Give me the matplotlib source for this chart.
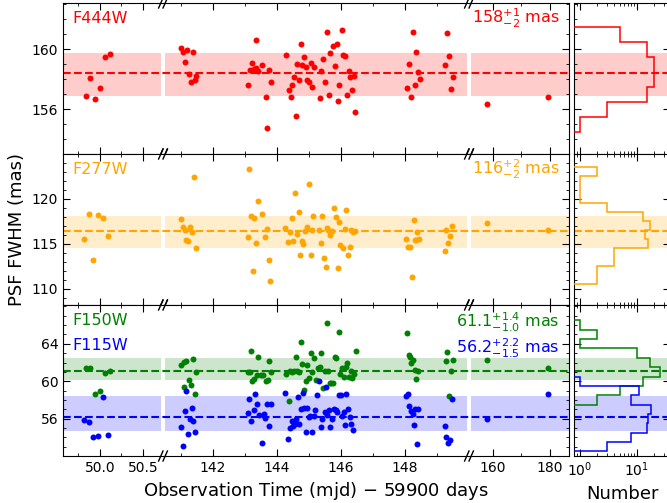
import matplotlib
matplotlib.use("Agg")
import matplotlib.pyplot as plt
from matplotlib.ticker import FixedLocator, MultipleLocator, LogLocator, NullFormatter
import numpy as np

# observation times (mjd - 59900) and PSF FWHM (mas) per filter
t_f444w = [49.835, 49.94, 49.885, 50.005, 50.06, 50.115,
           141.01, 141.075, 141.19, 141.37, 141.14, 141.24, 141.30, 141.43, 141.47,
           143.11, 143.15, 143.21, 143.28, 143.33, 143.36, 143.41, 143.54, 143.65, 143.76, 143.70, 143.81,
           144.28, 144.37, 144.43, 144.48, 144.53, 144.58, 144.64, 144.68, 144.74, 144.79,
           144.84, 144.90, 144.95, 145.00, 145.05, 145.11, 145.17, 145.33, 145.39, 145.43,
           145.50, 145.55, 145.62, 145.67, 145.75, 145.81, 145.87, 145.92, 145.95, 146.03,
           146.06, 146.12, 146.19, 146.24, 146.29, 146.34, 146.40, 146.45,
           148.08, 148.13, 148.20, 148.25, 148.30, 148.36, 148.41, 148.46,
           149.25, 149.31, 149.37, 149.45, 149.50,
           158.1, 179.4]
fwhm_f444w = [156.9, 156.7, 158.1, 157.4, 159.5, 159.7,
              160.04, 159.82, 159.93, 159.82, 159.13, 158.33, 157.82, 157.93, 158.22,
              157.62, 158.57, 159.04, 158.64, 160.62, 158.73, 158.55, 158.93, 156.82, 158.62, 154.71, 157.82,
              159.62, 157.29, 156.82, 157.62, 158.13, 155.51, 159.02, 157.91, 160.33, 158.91,
              159.44, 158.82, 157.95, 157.77, 159.04, 157.44, 158.82, 156.71, 158.53, 159.33,
              157.82, 161.13, 156.91, 159.73, 160.22, 158.84, 160.33, 156.51, 157.60, 161.24,
              159.62, 159.55, 156.91, 158.55, 158.11, 157.29, 158.22, 155.80,
              157.40, 159.02, 156.80, 161.13, 157.60, 159.82, 158.44, 158.00,
              158.93, 161.04, 159.51, 157.31, 158.11,
              156.31, 156.82]

t_f277w = [49.81, 49.87, 49.92, 49.98, 50.03, 50.09,
           141.01, 141.06, 141.14, 141.17, 141.23, 141.28, 141.33, 141.40, 141.46,
           143.08, 143.14, 143.20, 143.25, 143.29, 143.34, 143.40, 143.52, 143.64, 143.69, 143.74, 143.79,
           144.26, 144.34, 144.41, 144.46, 144.51, 144.55, 144.62, 144.68, 144.72, 144.78,
           144.81, 144.88, 144.93, 144.99, 145.05, 145.10, 145.14, 145.31, 145.37, 145.42,
           145.47, 145.52, 145.57, 145.60, 145.65, 145.72, 145.79, 145.84, 145.90, 145.93, 145.96,
           146.06, 146.12, 146.15, 146.22, 146.27, 146.32, 146.38, 146.43,
           148.04, 148.09, 148.15, 148.22, 148.27, 148.30, 148.36, 148.39, 148.44,
           149.24, 149.29, 149.34, 149.42, 149.48,
           158.1, 179.4]
fwhm_f277w = [115.59, 118.35, 113.20, 118.16, 117.87, 115.86,
              117.76, 116.93, 116.60, 115.41, 115.30, 116.86, 116.37, 122.42, 114.58,
              115.78, 123.31, 118.13, 111.97, 117.83, 115.14, 119.73, 118.32, 115.78, 116.64, 113.17, 110.82,
              116.75, 115.25, 116.37, 117.83, 115.36, 120.63, 116.08, 118.50, 113.76, 115.33,
              115.00, 116.45, 116.93, 121.71, 113.76, 116.60, 118.13, 116.53, 115.14, 118.13,
              113.39, 112.45, 116.75, 116.56, 116.00, 116.42, 118.95, 118.02, 112.27, 117.46, 114.85,
              114.51, 116.64, 118.77, 113.76, 114.66, 116.56, 116.34, 116.45,
              115.55, 114.66, 114.66, 111.30, 117.65, 115.41, 115.41, 116.34, 115.52,
              114.21, 116.56, 115.11, 115.86, 117.04,
              117.35, 116.56]

t_f150w = [49.835, 49.885, 49.94, 50.005, 50.06, 50.115,
           141.01, 141.08, 141.17, 141.37, 141.08, 141.25, 141.30, 141.43, 141.48,
           143.20, 143.09, 143.15, 143.23, 143.27, 143.37, 143.41, 143.49, 143.55, 143.65, 143.71, 143.76, 143.81,
           144.28, 144.37, 144.42, 144.47, 144.52, 144.59, 144.64, 144.69, 144.75, 144.79,
           144.84, 144.90, 144.95, 145.00, 145.05, 145.11, 145.17, 145.23, 145.28, 145.33,
           145.39, 145.44, 145.49, 145.55, 145.61, 145.65, 145.70, 145.75, 145.80, 145.86, 145.94,
           145.96, 146.04, 146.09, 146.15, 146.20, 146.25, 146.30, 146.36, 146.41, 146.46,
           148.08, 148.12, 148.15, 148.19, 148.25, 148.30, 148.36, 148.41,
           149.27, 149.31, 149.37, 149.50, 149.45,
           158.1, 179.4]
fwhm_f150w = [61.43, 61.43, 58.61, 58.93, 60.86, 61.11,
              61.72, 62.04, 62.11, 62.33, 59.33, 60.11, 59.57, 58.68, 60.97,
              63.25, 60.97, 60.97, 60.00, 60.25, 60.65, 62.54, 60.65, 60.61, 59.97, 60.11, 62.18, 61.00,
              60.75, 57.93, 61.11, 61.00, 61.04, 62.61, 61.04, 60.97, 64.15, 61.82,
              59.07, 60.03, 61.72, 60.29, 63.04, 61.00, 62.44, 60.18, 61.43, 61.50,
              63.04, 59.28, 61.07, 66.19, 61.07, 59.79, 59.79, 59.82, 62.54, 62.44, 65.29,
              60.72, 61.36, 60.46, 61.54, 61.90, 60.40, 61.07, 60.29, 60.75, 63.25,
              65.11, 62.79, 62.61, 61.90, 62.25, 61.18, 60.22, 61.07,
              62.15, 63.14, 58.43, 62.25, 61.11,
              62.25, 61.43]

t_f115w = [49.81, 49.87, 49.92, 49.98, 50.04, 50.09,
           141.01, 141.07, 141.11, 141.17, 141.22, 141.27, 141.33, 141.39, 141.44,
           143.09, 143.14, 143.18, 143.27, 143.31, 143.39, 143.44, 143.53, 143.59, 143.64, 143.70, 143.74, 143.81,
           144.26, 144.34, 144.40, 144.46, 144.51, 144.56, 144.61, 144.65, 144.69, 144.74,
           144.80, 144.84, 144.90, 144.95, 145.00, 145.04, 145.09, 145.15, 145.20, 145.25,
           145.31, 145.37, 145.42, 145.49, 145.52, 145.57, 145.63, 145.67, 145.73, 145.78,
           145.84, 145.88, 145.93,
           146.01, 146.04, 146.12, 146.17, 146.22, 146.27, 146.32, 146.38, 146.09,
           148.04, 148.09, 148.13, 148.20, 148.25, 148.30, 148.41, 148.27, 148.39,
           149.24, 149.29, 149.34, 149.40, 149.48,
           158.1, 179.4]
fwhm_f115w = [55.82, 55.64, 54.07, 54.14, 58.32, 54.29,
              55.07, 53.07, 56.79, 58.96, 54.35, 55.96, 57.18, 55.75, 54.61,
              56.60, 58.10, 55.71, 56.89, 58.61, 57.61, 56.36, 53.39, 56.54, 56.11, 57.61, 55.25, 57.61,
              58.79, 53.86, 55.00, 55.75, 55.21, 55.39, 56.00, 58.32, 55.39, 57.00,
              58.79, 57.18, 54.57, 57.14, 56.14, 56.25, 54.57, 56.33, 56.89, 58.50,
              59.97, 55.10, 56.00, 56.71, 59.33, 56.43, 56.89, 55.10, 56.00, 57.08,
              56.89, 56.71, 58.50,
              58.50, 56.25, 55.29, 58.68, 57.08, 56.18, 55.47, 54.83, 56.71,
              58.43, 58.58, 57.32, 56.82, 56.54, 57.08, 57.08, 55.36, 53.25,
              55.18, 54.03, 53.39, 53.75, 58.07,
              55.93, 58.58]

# median and 1-sigma range per filter: (median, lower, upper)
stats_f444w = (158.4, 156.9, 159.75)
stats_f277w = (116.4, 114.5, 118.1)
stats_f150w = (61.1, 60.1, 62.5)
stats_f115w = (56.2, 54.7, 58.4)

# histogram counts (1 mas bins)
edges_f444w = np.arange(154.5, 161.6, 1.0)
counts_f444w = [1, 3, 15, 20, 20, 15, 5]
edges_f277w = np.arange(110.5, 123.6, 1.0)
counts_f277w = [2, 2, 4, 4, 16, 14, 17, 13, 3, 1, 1, 1, 2]
edges_f150w = np.arange(57.5, 66.6, 1.0)
counts_f150w = [2, 5, 13, 26, 17, 10, 1, 2, 1]
edges_f115w = np.arange(52.5, 60.6, 1.0)
counts_f115w = [3, 8, 15, 16, 18, 8, 11, 1]

# broken time axis: three segments packed into one axes (positions in px)
seg_t = [49.57, 50.71, 140.5, 149.94, 152.4, 186.6]
seg_p = [0.0, 98.0, 102.0, 404.0, 408.0, 506.0]


def fwd(x):
    return np.interp(x, seg_t, seg_p)


def inv(p):
    return np.interp(p, seg_p, seg_t)


W, H = 667, 503
fig = plt.figure(figsize=(W / 100, H / 100), dpi=100)

rows = [
    dict(series=[("F444W", "red", t_f444w, fwhm_f444w, stats_f444w, edges_f444w, counts_f444w,
                  r"$158^{+1}_{-2}$ mas")],
         ylim=(153.0, 163.07), yticks=[156, 160]),
    dict(series=[("F277W", "orange", t_f277w, fwhm_f277w, stats_f277w, edges_f277w, counts_f277w,
                  r"$116^{+2}_{-2}$ mas")],
         ylim=(108.2, 125.0), yticks=[110, 115, 120]),
    dict(series=[("F150W", "green", t_f150w, fwhm_f150w, stats_f150w, edges_f150w, counts_f150w,
                  r"$61.1^{+1.4}_{-1.0}$ mas"),
                 ("F115W", "blue", t_f115w, fwhm_f115w, stats_f115w, edges_f115w, counts_f115w,
                  r"$56.2^{+2.2}_{-1.5}$ mas")],
         ylim=(52.0, 68.15), yticks=[56, 60, 64]),
]

row_h = 151
main_l, main_w = 63, 506
hist_l, hist_r = 574, 670
first = None
axes_main = []
for i, row in enumerate(rows):
    top = 3 + i * row_h
    rect = [main_l / W, 1 - (top + row_h) / H, main_w / W, row_h / H]
    ax = fig.add_axes(rect, sharex=first)
    if first is None:
        first = ax
        ax.set_xscale("function", functions=(fwd, inv))
        ax.set_xlim(seg_t[0], seg_t[-1])
    hrect = [hist_l / W, 1 - (top + row_h) / H, (hist_r - hist_l) / W, row_h / H]
    hx = fig.add_axes(hrect, sharey=ax)
    axes_main.append(ax)

    for k, (name, col, t, v, st, edges, counts, txt) in enumerate(row["series"]):
        med, lo, hi = st
        for a in (ax, hx):
            a.axhspan(lo, hi, color=col, alpha=0.2, lw=0, zorder=1)
            a.axhline(med, color=col, ls="--", lw=1.5, zorder=2.5)
        ax.plot(t, v, "o", color=col, ms=4.3, mew=0, zorder=3)
        hx.stairs(counts, edges, orientation="horizontal", baseline=0.01,
                  color=col, lw=1.1, zorder=3)
        ypos = 0.90 - k * 0.17
        ax.text(0.018, ypos, name, color=col, fontsize=11.5, transform=ax.transAxes,
                ha="left", va="center")
        ax.text(0.982, ypos - 0.015 * (i == 2), txt, color=col, fontsize=11.5,
                transform=ax.transAxes, ha="right", va="center")

    # white gaps between time segments
    ax.axvspan(seg_t[1], seg_t[2], color="white", lw=0, zorder=2)
    ax.axvspan(seg_t[3], seg_t[4], color="white", lw=0, zorder=2)

    ax.set_ylim(*row["ylim"])
    ax.yaxis.set_major_locator(FixedLocator(row["yticks"]))
    ax.yaxis.set_minor_locator(MultipleLocator(1))
    ax.tick_params(which="both", direction="in", top=True, right=True, labelsize=10)
    ax.tick_params(which="major", length=5)
    ax.tick_params(which="minor", length=2.5)
    if i < 2:
        ax.tick_params(labelbottom=False)

    # "//" break marks on top and bottom spines
    for gc in (100 / main_w, 406 / main_w):
        for yb in (0.0, 1.0):
            for off in (-2.2, 2.2):
                x0 = gc + (off - 2.2) / main_w
                x1 = gc + (off + 2.2) / main_w
                ax.plot([x0, x1], [yb - 5 / row_h, yb + 5 / row_h], color="black",
                        lw=1.0, transform=ax.transAxes, clip_on=False, zorder=5)

    hx.set_xscale("log")
    hx.set_xlim(0.786, 38.3)
    hx.xaxis.set_major_locator(LogLocator(base=10, numticks=5))
    hx.xaxis.set_minor_locator(LogLocator(base=10, subs=np.arange(2, 10), numticks=10))
    hx.xaxis.set_minor_formatter(NullFormatter())
    hx.tick_params(which="both", direction="in", top=True, right=True, labelleft=False,
                   labelsize=10)
    hx.tick_params(which="major", length=5)
    hx.tick_params(which="minor", length=2.5)
    if i < 2:
        hx.tick_params(labelbottom=False)
    else:
        hx.set_xlabel("Number", fontsize=13)

ax = axes_main[-1]
ax.set_xlim(seg_t[0], seg_t[-1])
ax.xaxis.set_major_locator(FixedLocator([50.0, 50.5, 142, 144, 146, 148, 160, 180]))
ax.xaxis.set_minor_locator(FixedLocator([49.75, 50.25, 141, 143, 145, 147, 149, 170]))
ax.set_xticklabels(["50.0", "50.5", "142", "144", "146", "148", "160", "180"])
ax.set_xlabel("Observation Time (mjd) $-$ 59900 days", fontsize=13)

fig.text(0.026, 1 - 229.5 / H, "PSF FWHM (mas)", rotation=90, fontsize=13,
         ha="center", va="center")

fig.savefig("out.png", dpi=100)
